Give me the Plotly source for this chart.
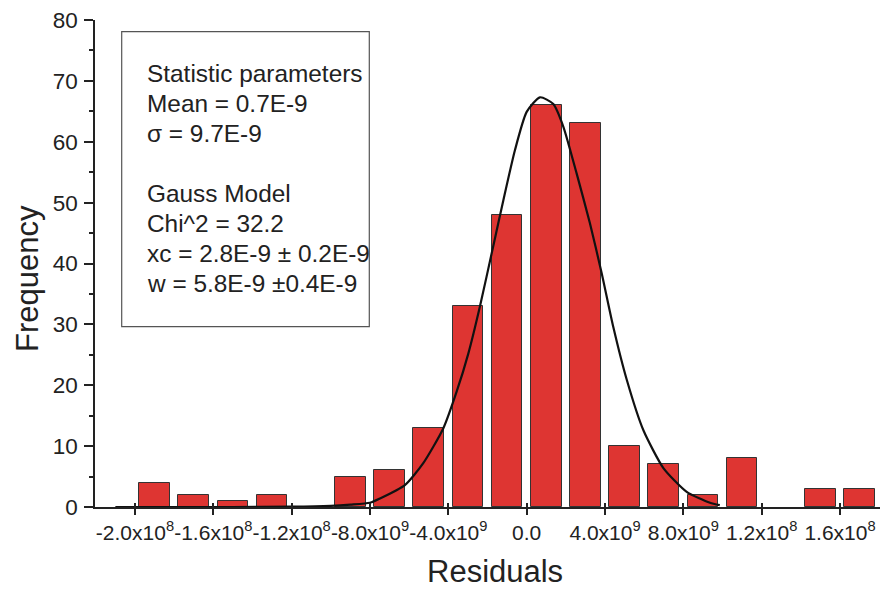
import plotly.graph_objects as go

# ---- data ----
bin_centers = [-19e-9, -17e-9, -15e-9, -13e-9, -11e-9, -9e-9, -7e-9, -5e-9, -3e-9, -1e-9,
               1e-9, 3e-9, 5e-9, 7e-9, 9e-9, 11e-9, 13e-9, 15e-9, 17e-9]
frequency = [4, 2, 1, 2, 0, 5, 6, 13, 33, 48, 66, 63, 10, 7, 2, 8, 0, 3, 3]

gauss_x = [-21.0e-9, -15.0e-9, -12.0e-9, -10.0e-9, -9.0e-9, -8.0e-9, -7.49e-9, -6.22e-9, -5.28e-9,
           -4.26e-9, -3.58e-9, -2.98e-9, -2.39e-9, -1.71e-9, -1.19e-9, -0.60e-9, 0.0e-9,
           0.68e-9, 1.36e-9, 1.87e-9, 2.55e-9, 3.23e-9, 3.83e-9, 4.42e-9, 5.11e-9, 5.96e-9,
           6.98e-9, 8.17e-9, 9.36e-9, 9.86e-9]
gauss_y = [0.0, 0.0, 0.05, 0.2, 0.4, 0.7, 1.4, 3.6, 7.2,
           12.9, 18.9, 25.2, 32.9, 42.8, 50.4, 58.6, 64.9,
           67.3, 66.2, 62.5, 54.8, 46.6, 38.4, 29.6, 20.9, 12.6,
           6.4, 2.5, 0.7, 0.3]

tick_vals = [-2.0e-8, -1.6e-8, -1.2e-8, -8.0e-9, -4.0e-9, 0.0, 4.0e-9, 8.0e-9, 1.2e-8, 1.6e-8]
tick_text = ["-2.0x10<sup>8</sup>", "-1.6x10<sup>8</sup>", "-1.2x10<sup>8</sup>",
             "-8.0x10<sup>9</sup>", "-4.0x10<sup>9</sup>", "0.0",
             "4.0x10<sup>9</sup>", "8.0x10<sup>9</sup>", "1.2x10<sup>8</sup>", "1.6x10<sup>8</sup>"]

stats_lines = ["Statistic parameters", "Mean = 0.7E-9", "σ = 9.7E-9", "",
               "Gauss Model", "Chi^2 = 32.2", "xc = 2.8E-9 ± 0.2E-9", "w = 5.8E-9 ±0.4E-9"]

FONT = "Liberation Sans, Arial, sans-serif"
W, H = 880, 589
ML, MR, MT, MB = 95, 0, 20, 82
PW = W - ML - MR
PH = H - MT - MB

def px_x(p):
    return (p - ML) / PW

def px_y(p):
    return (H - MB - p) / PH

fig = go.Figure()
fig.add_trace(go.Bar(
    x=bin_centers, y=frequency, width=1.57e-9,
    marker=dict(color="#DE3532",
                line=dict(color="#333333", width=[1 if f > 0 else 0 for f in frequency])),
    showlegend=False,
))
fig.add_trace(go.Scatter(
    x=gauss_x, y=gauss_y, mode="lines",
    line=dict(color="#111111", width=2.2, shape="spline", smoothing=0.6),
    showlegend=False,
))
# invisible trace on overlay axis for inside ticks
fig.add_trace(go.Scatter(x=[tick_vals[0]], y=[0], xaxis="x2", mode="markers",
                         marker=dict(opacity=0), showlegend=False, hoverinfo="skip"))

xr = [-22.04e-9, 18.04e-9]
fig.update_layout(
    width=W, height=H,
    margin=dict(l=ML, r=MR, t=MT, b=MB, pad=0),
    plot_bgcolor="white", paper_bgcolor="white",
    font=dict(family=FONT, color="#222222"),
    xaxis=dict(range=xr, showgrid=False, zeroline=False,
               showline=True, linecolor="#222222", linewidth=1.5,
               ticks="outside", ticklen=6, tickwidth=1.5, tickcolor="#222222",
               tickmode="array", tickvals=tick_vals, ticktext=tick_text,
               tickangle=0,
               tickfont=dict(size=21, family=FONT, color="#222222")),
    xaxis2=dict(range=xr, overlaying="x", anchor="y", side="bottom",
                showgrid=False, zeroline=False, showline=False,
                ticks="inside", ticklen=4, tickwidth=1.5, tickcolor="#222222",
                tickmode="array", tickvals=tick_vals, showticklabels=False),
    yaxis=dict(range=[0, 80], showgrid=False, zeroline=False,
               showline=True, linecolor="#222222", linewidth=1.5,
               ticks="outside", ticklen=9, tickwidth=1.5, tickcolor="#222222",
               dtick=10, tick0=0, ticklabelstandoff=2,
               tickfont=dict(size=22.5, family=FONT, color="#222222"),
               minor=dict(ticks="outside", ticklen=4, tickwidth=1.5,
                          tickcolor="#222222", dtick=5, showgrid=False)),
    bargap=0,
)

# text box
fig.add_shape(type="rect", xref="paper", yref="paper",
              x0=px_x(121.7), x1=px_x(369.3), y0=px_y(326.7), y1=px_y(31.7),
              line=dict(color="#555555", width=1.2), fillcolor="rgba(0,0,0,0)")

line_centers = [73.3, 103.3, 133.3, 163.3, 193.3, 223.3, 253.3, 283.3]
for txt, yc in zip(stats_lines, line_centers):
    if not txt:
        continue
    fig.add_annotation(text=txt, xref="paper", yref="paper",
                       x=px_x(145.0), y=px_y(yc), xanchor="left", yanchor="middle",
                       showarrow=False, font=dict(size=24.4, family=FONT, color="#222222"))

# axis titles
fig.add_annotation(text="Frequency", xref="paper", yref="paper",
                   x=px_x(27), y=px_y(279), textangle=-90,
                   xanchor="center", yanchor="middle", showarrow=False,
                   font=dict(size=31, family=FONT, color="#222222"))
fig.add_annotation(text="Residuals", xref="paper", yref="paper",
                   x=px_x(495), y=px_y(571),
                   xanchor="center", yanchor="middle", showarrow=False,
                   font=dict(size=31, family=FONT, color="#222222"))

fig.write_html("out.html")
